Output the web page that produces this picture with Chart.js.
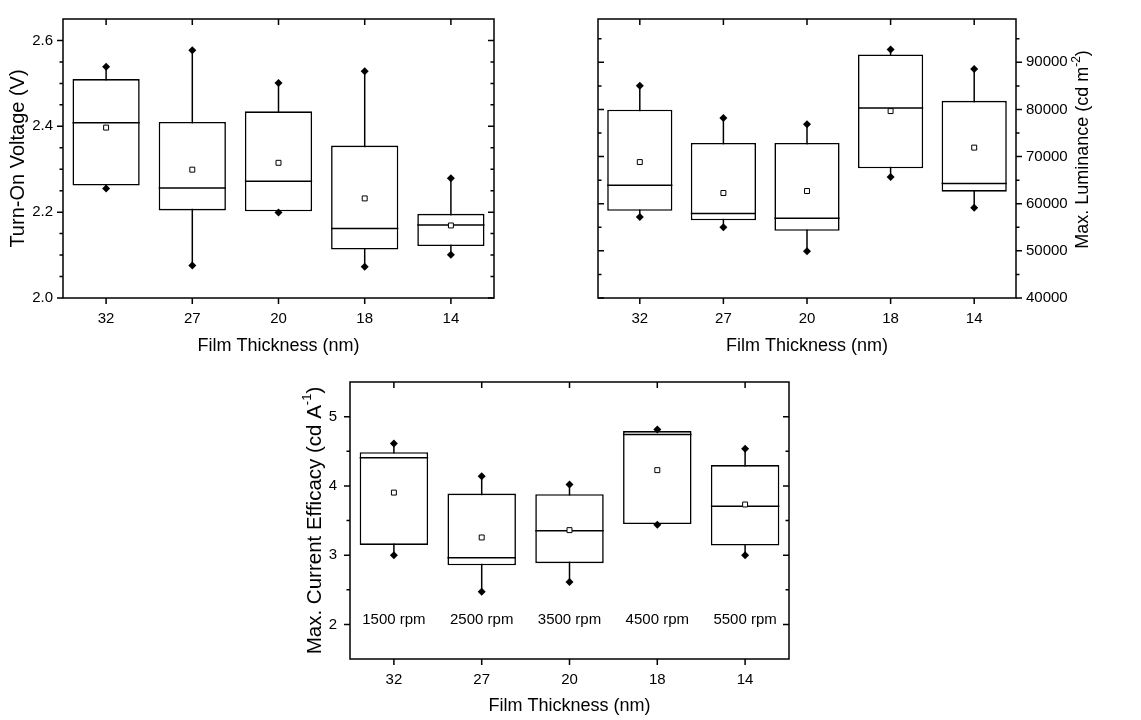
<!DOCTYPE html>
<html>

<head>
    <meta charset="utf-8">
    <title>Film Thickness Box Charts</title>
    <style>
        body {
            margin: 0;
            background: #fff;
        }

        #wrap {
            position: relative;
            width: 1141px;
            height: 720px;
        }

        canvas {
            position: absolute;
        }
    </style>
</head>

<body>
    <div id="wrap">
        <canvas id="voltage" width="570" height="360" style="left:0;top:0"></canvas>
        <canvas id="luminance" width="571" height="360" style="left:570px;top:0"></canvas>
        <canvas id="efficacy" width="580" height="360" style="left:290px;top:360px"></canvas>
    </div>
    <script src="https://cdn.jsdelivr.net/npm/chart.js@4/dist/chart.umd.min.js"></script>
    <script type="text/javascript">
        // categories
        var thickness = ['32', '27', '20', '18', '14'];
        var spinSpeed = ['1500 rpm', '2500 rpm', '3500 rpm', '4500 rpm', '5500 rpm'];

        // turn-on voltage (V)
        var voltMax = [2.539, 2.577, 2.501, 2.528, 2.279];
        var voltQ3 = [2.510, 2.410, 2.435, 2.355, 2.196];
        var voltMedian = [2.408, 2.256, 2.272, 2.162, 2.170];
        var voltMean = [2.397, 2.299, 2.315, 2.232, 2.169];
        var voltQ1 = [2.262, 2.204, 2.202, 2.113, 2.121];
        var voltMin = [2.255, 2.076, 2.199, 2.073, 2.101];
        var voltTicks = [2.0, 2.2, 2.4, 2.6];

        // max. luminance (cd m^-2)
        var lumMax = [85040, 78200, 76880, 92720, 88600];
        var lumQ3 = [79940, 72890, 72890, 91670, 81830];
        var lumMedian = [63950, 57950, 56900, 80290, 64300];
        var lumMean = [68840, 62280, 62700, 79660, 71910];
        var lumQ1 = [58500, 56480, 54250, 67510, 62560];
        var lumMin = [57180, 55020, 49920, 65700, 59130];
        var lumTicks = [40000, 50000, 60000, 70000, 80000, 90000];

        // max. current efficacy (cd A^-1)
        var effMax = [4.611, 4.139, 4.019, 4.815, 4.537];
        var effQ3 = [4.486, 3.889, 3.880, 4.792, 4.301];
        var effMedian = [4.407, 2.963, 3.352, 4.741, 3.704];
        var effMean = [3.903, 3.255, 3.361, 4.227, 3.731];
        var effQ1 = [3.148, 2.852, 2.884, 3.449, 3.139];
        var effMin = [3.000, 2.472, 2.611, 3.440, 3.000];
        var effTicks = [2, 3, 4, 5];

        var FONT = '"Liberation Sans", Arial, sans-serif';
        Chart.defaults.font.family = FONT;
        Chart.defaults.color = '#000';

        // vertical axis title, reads bottom to top, with optional superscript parts
        function drawYTitle(ctx, area, s) {
            var size = s.titleSize || 20;
            var supSize = Math.round(size * 0.65);
            ctx.save();
            ctx.fillStyle = '#000';
            ctx.textBaseline = 'middle';
            ctx.textAlign = 'left';
            var widths = s.title.map(function(p) {
                ctx.font = (p.sup ? supSize : size) + 'px ' + FONT;
                return ctx.measureText(p.text).width;
            });
            var total = widths.reduce(function(a, b) { return a + b; }, 0);
            ctx.translate(s.titleX, (area.top + area.bottom) / 2 + (s.titleShift || 0));
            ctx.rotate(-Math.PI / 2);
            var cx = -total / 2;
            s.title.forEach(function(p, i) {
                ctx.font = (p.sup ? supSize : size) + 'px ' + FONT;
                ctx.fillText(p.text, cx, p.sup ? -size * 0.35 : 0);
                cx += widths[i];
            });
            ctx.restore();
        }

        // whiskers, medians, frame, tick marks and extra labels
        function boxParts(s) {
            return {
                id: 'boxParts',
                beforeDatasetsDraw: function(chart) {
                    var ctx = chart.ctx, x = chart.scales.x, y = chart.scales.y;
                    ctx.save();
                    ctx.strokeStyle = '#000';
                    ctx.lineWidth = 1.5;
                    s.min.forEach(function(v, i) {
                        var px = x.getPixelForValue(i);
                        ctx.beginPath();
                        ctx.moveTo(px, y.getPixelForValue(s.min[i]));
                        ctx.lineTo(px, y.getPixelForValue(s.max[i]));
                        ctx.stroke();
                    });
                    ctx.restore();
                },
                afterDatasetDraw: function(chart, args) {
                    if (args.meta.type !== 'bar') return;
                    var ctx = chart.ctx, y = chart.scales.y;
                    ctx.save();
                    ctx.strokeStyle = '#000';
                    ctx.lineWidth = 1.5;
                    args.meta.data.forEach(function(bar, i) {
                        var py = y.getPixelForValue(s.median[i]);
                        ctx.beginPath();
                        ctx.moveTo(bar.x - bar.width / 2, py);
                        ctx.lineTo(bar.x + bar.width / 2, py);
                        ctx.stroke();
                    });
                    ctx.restore();
                },
                afterDraw: function(chart) {
                    var ctx = chart.ctx, a = chart.chartArea;
                    var x = chart.scales.x, y = chart.scales.y;
                    ctx.save();
                    ctx.strokeStyle = '#000';
                    ctx.lineWidth = 1.5;
                    ctx.strokeRect(a.left, a.top, a.right - a.left, a.bottom - a.top);

                    ctx.beginPath();
                    // category ticks: out at the bottom, in at the top
                    thickness.forEach(function(t, i) {
                        var px = x.getPixelForValue(i);
                        ctx.moveTo(px, a.bottom);
                        ctx.lineTo(px, a.bottom + 6);
                        ctx.moveTo(px, a.top);
                        ctx.lineTo(px, a.top + 6);
                    });
                    // value ticks: out on the labelled side, in on the other
                    var mainX = s.side === 'left' ? a.left : a.right;
                    var otherX = s.side === 'left' ? a.right : a.left;
                    var dir = s.side === 'left' ? -1 : 1;
                    var n = Math.round((y.max - y.min) / s.minorStep);
                    for (var k = 0; k <= n; k++) {
                        var v = y.min + k * s.minorStep;
                        var major = s.ticks.some(function(t) { return Math.abs(t - v) < s.minorStep / 10; });
                        if (!major && (k === 0 || v >= y.max - s.minorStep / 10)) continue;
                        var len = major ? 6 : 3.5;
                        var py = y.getPixelForValue(v);
                        ctx.moveTo(mainX, py);
                        ctx.lineTo(mainX + dir * len, py);
                        ctx.moveTo(otherX, py);
                        ctx.lineTo(otherX + dir * len, py);
                    }
                    ctx.stroke();
                    ctx.restore();

                    drawYTitle(ctx, a, s);

                    if (s.notes) {
                        ctx.save();
                        ctx.fillStyle = '#000';
                        ctx.font = '15px ' + FONT;
                        ctx.textAlign = 'center';
                        ctx.textBaseline = 'middle';
                        s.notes.forEach(function(t, i) {
                            ctx.fillText(t, x.getPixelForValue(i), y.getPixelForValue(s.notesAt));
                        });
                        ctx.restore();
                    }
                }
            };
        }

        function boxChart(id, s) {
            var ctx = document.getElementById(id).getContext('2d');
            return new Chart(ctx, {
                type: 'bar',
                data: {
                    labels: thickness,
                    datasets: [{
                        type: 'bar',
                        data: s.q1.map(function(v, i) { return [v, s.q3[i]]; }),
                        backgroundColor: '#fff',
                        borderColor: '#000',
                        borderWidth: 1.6,
                        borderSkipped: false,
                        barPercentage: 0.78,
                        categoryPercentage: 1,
                        order: 2
                    }, {
                        type: 'line',
                        data: s.mean,
                        showLine: false,
                        pointStyle: 'rect',
                        pointRadius: 3.5,
                        pointBackgroundColor: '#fff',
                        pointBorderColor: '#000',
                        pointBorderWidth: 1,
                        order: 1
                    }, {
                        type: 'line',
                        data: s.max,
                        showLine: false,
                        pointStyle: 'rectRot',
                        pointRadius: 4,
                        pointBackgroundColor: '#000',
                        pointBorderWidth: 0,
                        order: 1
                    }, {
                        type: 'line',
                        data: s.min,
                        showLine: false,
                        pointStyle: 'rectRot',
                        pointRadius: 4,
                        pointBackgroundColor: '#000',
                        pointBorderWidth: 0,
                        order: 1
                    }]
                },
                options: {
                    responsive: false,
                    animation: false,
                    devicePixelRatio: 1,
                    layout: { padding: s.padding },
                    plugins: {
                        legend: { display: false },
                        tooltip: { enabled: false }
                    },
                    scales: {
                        x: {
                            grid: { display: false, drawTicks: false },
                            border: { display: false },
                            ticks: { padding: 12, font: { size: 15 } },
                            title: {
                                display: true,
                                text: 'Film Thickness (nm)',
                                font: { size: 18 },
                                padding: { top: 0, bottom: 3 }
                            },
                            afterFit: function(sc) { sc.height = s.xAxisHeight; }
                        },
                        y: {
                            position: s.side,
                            min: s.range[0],
                            max: s.range[1],
                            grid: { display: false, drawTicks: false },
                            border: { display: false },
                            ticks: { padding: s.tickPad, font: { size: 15 }, callback: s.format },
                            afterBuildTicks: function(sc) {
                                sc.ticks = s.ticks.map(function(v) { return { value: v }; });
                            },
                            afterFit: function(sc) { sc.width = s.yAxisWidth; }
                        }
                    }
                },
                plugins: [boxParts(s)]
            });
        }

        window.onload = function() {
            boxChart('voltage', {
                q1: voltQ1, q3: voltQ3, median: voltMedian, mean: voltMean, min: voltMin, max: voltMax,
                ticks: voltTicks, range: [2.0, 2.65], minorStep: 0.05,
                format: function(v) { return v.toFixed(1); },
                side: 'left', tickPad: 10, yAxisWidth: 63, xAxisHeight: 62,
                padding: { top: 15, right: 76, bottom: 0, left: 0 },
                titleX: 18, title: [{ text: 'Turn-On Voltage (V)' }]
            });
            boxChart('luminance', {
                q1: lumQ1, q3: lumQ3, median: lumMedian, mean: lumMean, min: lumMin, max: lumMax,
                ticks: lumTicks, range: [40000, 99200], minorStep: 5000,
                format: function(v) { return String(v); },
                side: 'right', tickPad: 10, yAxisWidth: 125, xAxisHeight: 62,
                padding: { top: 15, right: 0, bottom: 0, left: 28 },
                titleX: 513, titleSize: 18, titleShift: -9,
                title: [{ text: 'Max. Luminance (cd m' }, { text: '-2', sup: true }, { text: ')' }]
            });
            boxChart('efficacy', {
                q1: effQ1, q3: effQ3, median: effMedian, mean: effMean, min: effMin, max: effMax,
                ticks: effTicks, range: [1.5, 5.5], minorStep: 0.5,
                format: function(v) { return String(v); },
                side: 'left', tickPad: 13, yAxisWidth: 60, xAxisHeight: 61,
                padding: { top: 12, right: 81, bottom: 0, left: 0 },
                titleX: 25, titleSize: 20.5,
                title: [{ text: 'Max. Current Efficacy (cd A' }, { text: '-1', sup: true }, { text: ')' }],
                notes: spinSpeed, notesAt: 2.07
            });
        };
    </script>
</body>

</html>
